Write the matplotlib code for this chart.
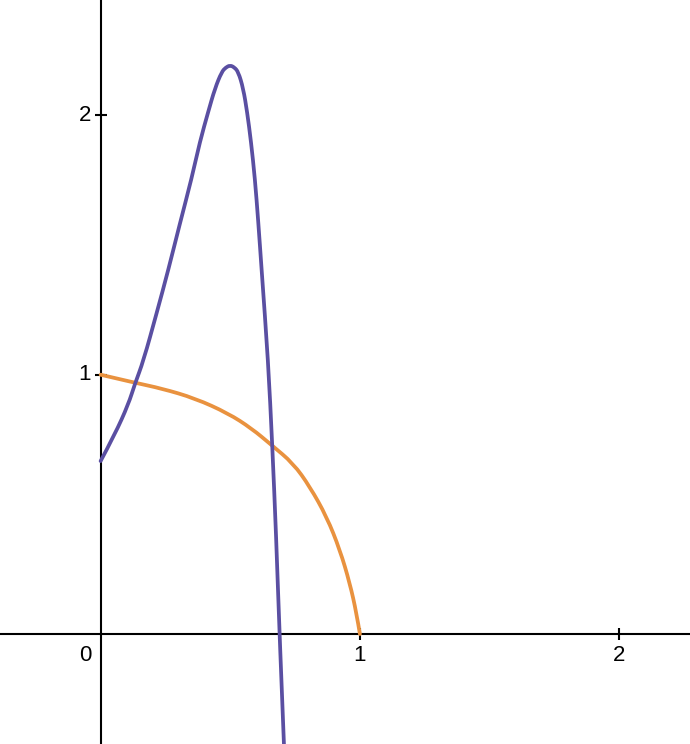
import matplotlib
matplotlib.use("Agg")
import matplotlib.pyplot as plt
from matplotlib.path import Path
from matplotlib.patches import PathPatch

# purple curve
purple_x = [0.0, 0.055, 0.107, 0.132, 0.165, 0.216, 0.261, 0.305, 0.351, 0.383, 0.415, 0.441,
            0.467, 0.483, 0.499, 0.515, 0.531, 0.550, 0.565, 0.580, 0.595, 0.608, 0.621, 0.646,
            0.662, 0.677, 0.690, 0.707]
purple_y = [0.667, 0.770, 0.886, 0.964, 1.053, 1.237, 1.404, 1.580, 1.757, 1.899, 2.014, 2.104,
            2.168, 2.185, 2.193, 2.186, 2.168, 2.104, 2.014, 1.899, 1.757, 1.590, 1.404, 1.053,
            0.729, 0.375, 0.0, -0.424]

# orange curve
orange_x = [0.0, 0.132, 0.235, 0.364, 0.492, 0.582, 0.659, 0.743, 0.807, 0.872, 0.923, 0.961, 0.987, 1.0]
orange_y = [1.0, 0.969, 0.947, 0.909, 0.851, 0.793, 0.729, 0.658, 0.568, 0.452, 0.324, 0.196, 0.080, 0.0]

x_ticks = [1, 2]
y_ticks = [1, 2]


def smooth_path(xs, ys):
    # quadratic bezier through midpoints, so the curve has no corners
    pts = list(zip(xs, ys))
    verts = [pts[0]]
    codes = [Path.MOVETO]
    for i in range(1, len(pts) - 1):
        mid = ((pts[i][0] + pts[i + 1][0]) / 2, (pts[i][1] + pts[i + 1][1]) / 2)
        if i == len(pts) - 2:
            mid = pts[i + 1]
        verts += [pts[i], mid]
        codes += [Path.CURVE3, Path.CURVE3]
    return Path(verts, codes)


plt.rcParams['font.family'] = ['Liberation Sans', 'DejaVu Sans']

fig = plt.figure(figsize=(6.9, 7.44), dpi=100)
ax = fig.add_axes([0, 0, 1, 1])

ax.add_patch(PathPatch(smooth_path(orange_x, orange_y), fill=False, edgecolor='#e9923f',
                       lw=2.7, capstyle='round', joinstyle='round', zorder=3))
ax.add_patch(PathPatch(smooth_path(purple_x, purple_y), fill=False, edgecolor='#5a4fa2',
                       lw=2.7, capstyle='round', joinstyle='round', zorder=4))

ax.set_xlim(-0.388, 2.273)
ax.set_ylim(-0.424, 2.445)

for s in ['top', 'right']:
    ax.spines[s].set_visible(False)
for s in ['left', 'bottom']:
    ax.spines[s].set_position(('data', 0))
    ax.spines[s].set_linewidth(1.5)
    ax.spines[s].set_zorder(2)

ax.set_xticks(x_ticks)
ax.set_yticks(y_ticks)
ax.set_xticklabels([])
ax.set_yticklabels([])
ax.tick_params(direction='inout', length=8, width=1.5, color='black')

for t in x_ticks:
    ax.annotate(str(t), (t, 0), xytext=(0, -8), textcoords='offset points',
                ha='center', va='top', fontsize=16)
for t in y_ticks:
    ax.annotate(str(t), (0, t), xytext=(-7, 0), textcoords='offset points',
                ha='right', va='center', fontsize=16)
ax.annotate('0', (0, 0), xytext=(-11, -8), textcoords='offset points',
            ha='center', va='top', fontsize=16)

fig.savefig('out.png', dpi=100)
